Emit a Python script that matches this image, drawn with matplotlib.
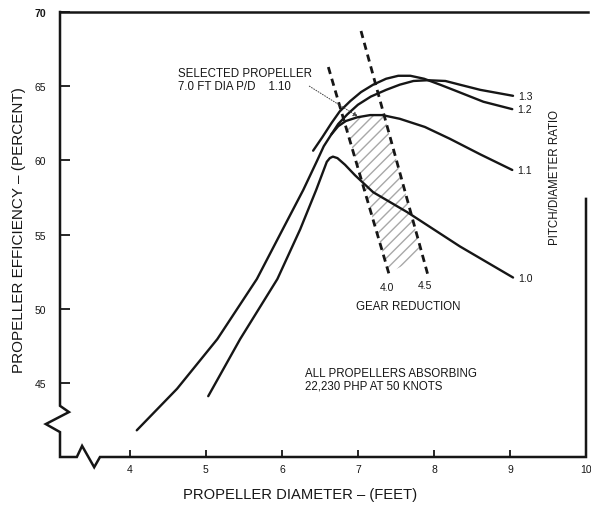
import numpy as np
import matplotlib
matplotlib.use("Agg")
import matplotlib.pyplot as plt
from matplotlib.lines import Line2D

plt.rcParams['font.family'] = ['Liberation Sans', 'DejaVu Sans']

# efficiency curves, one per pitch/diameter ratio (diameter ft, efficiency %)
pd10_x = [5.03, 5.45, 5.94, 6.24, 6.45, 6.59, 6.63, 6.67, 6.73, 6.83, 6.96, 7.2, 7.65, 8.34, 9.04]
pd10_y = [44.1, 47.95, 52.0, 55.35, 58.0, 59.9, 60.15, 60.25, 60.15, 59.7, 59.0, 57.85, 56.5, 54.2, 52.1]

pd11_x = [4.09, 4.62, 5.15, 5.67, 6.01, 6.28, 6.46, 6.55, 6.65, 6.74, 6.84, 6.99, 7.16, 7.32, 7.55, 7.88, 8.21, 8.61, 9.03]
pd11_y = [41.8, 44.6, 47.95, 52.0, 55.35, 58.0, 59.95, 60.95, 61.75, 62.3, 62.65, 62.9, 63.05, 63.05, 62.8, 62.25, 61.45, 60.4, 59.35]

pd12_x = [6.41, 6.53, 6.65, 6.76, 6.90, 7.04, 7.20, 7.37, 7.53, 7.69, 7.87, 8.08, 8.28, 8.65, 9.03]
pd12_y = [60.65, 61.55, 62.5, 63.3, 64.0, 64.6, 65.1, 65.5, 65.7, 65.7, 65.5, 65.1, 64.7, 63.95, 63.45]

pd13_x = [6.65, 6.74, 6.86, 7.0, 7.17, 7.37, 7.55, 7.73, 7.92, 8.15, 8.34, 8.61, 9.04]
pd13_y = [61.75, 62.45, 63.1, 63.75, 64.3, 64.75, 65.1, 65.35, 65.4, 65.35, 65.1, 64.75, 64.35]

ratio_labels = ["1.0", "1.1", "1.2", "1.3"]

# gear reduction lines (end points)
gear40_x = [6.61, 7.42]
gear40_y = [66.29, 52.13]
gear45_x = [7.04, 7.92]
gear45_y = [68.72, 52.27]
gear_labels = ["4.0", "4.5"]
hatch_bottom = [52.4, 53.6]   # lower edge of the shaded band on each gear line

selected = (7.0, 62.95)   # 7.0 ft dia, P/D 1.10

x_ticks = [4, 5, 6, 7, 8, 9, 10]
y_ticks = [45, 50, 55, 60, 65, 70]

ink = '#161616'
note_size = 8.3

fig = plt.figure(figsize=(5.91, 5.06), dpi=100)
ax = fig.add_axes([60/591, 1 - 458/506, 526/591, 445/506])
ax.set_xlim(3.08, 10)
ax.set_ylim(40, 70)

curves = [(pd10_x, pd10_y), (pd11_x, pd11_y), (pd12_x, pd12_y), (pd13_x, pd13_y)]
for (cx, cy), lab in zip(curves, ratio_labels):
    ax.plot(cx, cy, color=ink, lw=1.7, solid_capstyle='round', solid_joinstyle='round')
    ax.text(cx[-1] + 0.07, cy[-1], lab, fontsize=7.5, color=ink, ha='left', va='center')


def on_line(lx, ly, y):
    # x on a straight gear line at a given efficiency
    return lx[0] + (ly[0] - y) / (ly[0] - ly[1]) * (lx[1] - lx[0])


def meets_curve(lx, ly, cx, cy):
    # where a gear line crosses the P/D 1.1 curve
    t = np.linspace(0, 1, 400)
    gx = lx[0] + t * (lx[1] - lx[0])
    gy = ly[0] + t * (ly[1] - ly[0])
    d = gy - np.interp(gx, cx, cy)
    i = np.where(np.sign(d[:-1]) != np.sign(d[1:]))[0][0]
    return gx[i], gy[i]


# shaded band between the two gear lines, under the 1.1 curve
x_a, y_a = meets_curve(gear40_x, gear40_y, pd11_x, pd11_y)
x_b, y_b = meets_curve(gear45_x, gear45_y, pd11_x, pd11_y)
top_x = [x for x in pd11_x if x_a < x < x_b]
top_y = [y for x, y in zip(pd11_x, pd11_y) if x_a < x < x_b]
poly_x = [x_a, on_line(gear40_x, gear40_y, hatch_bottom[0]),
          on_line(gear45_x, gear45_y, hatch_bottom[1]), x_b] + top_x[::-1]
poly_y = [y_a, hatch_bottom[0], hatch_bottom[1], y_b] + top_y[::-1]
ax.fill(poly_x, poly_y, facecolor='none', edgecolor='#a8a8a8', hatch='///', lw=0)

for lx, ly, lab in [(gear40_x, gear40_y, gear_labels[0]), (gear45_x, gear45_y, gear_labels[1])]:
    ax.plot(lx, ly, color=ink, lw=2, linestyle=(0, (2.6, 1.8)))
    ax.text(lx[1] - 0.04, ly[1] - 0.65, lab, fontsize=7.5, color=ink, ha='center', va='center')

ax.text(7.66, 50.15, "GEAR REDUCTION", fontsize=note_size, color=ink, ha='center', va='center')

ax.text(4.63, 65.45, "SELECTED PROPELLER\n7.0 FT DIA P/D    1.10", fontsize=note_size, color=ink,
        ha='left', va='center', linespacing=1.1)
ax.annotate("", xy=selected, xytext=(6.36, 65.0),
            arrowprops=dict(arrowstyle='-|>', color='#444', lw=0.7, linestyle=':',
                            mutation_scale=7, shrinkA=0, shrinkB=0))

ax.text(6.30, 45.25, "ALL PROPELLERS ABSORBING\n22,230 PHP AT 50 KNOTS", fontsize=note_size,
        color=ink, ha='left', va='center', linespacing=1.1)

ax.text(9.59, 58.9, "PITCH/DIAMETER RATIO", fontsize=note_size, color=ink, rotation=90,
        ha='center', va='center')

# ticks point inward, no 40 / 3 labels
ax.set_xticks(x_ticks)
ax.set_xticklabels([str(t) for t in x_ticks])
ax.set_yticks(y_ticks)
ax.set_yticklabels([str(t) for t in y_ticks])
ax.tick_params(axis='x', direction='in', length=5, width=1.3, pad=5, labelsize=7.5, colors=ink)
ax.tick_params(axis='y', direction='in', length=7, width=1.3, pad=10, labelsize=7.5, colors=ink)
ax.get_yticklabels()[-1].set_fontweight('bold')

# frame drawn by hand so the axes can show break zigzags
for s in ax.spines.values():
    s.set_visible(False)
frame_x = [0, 0, 0.017, -0.027, 0, 0, 0.032, 0.042, 0.065, 0.076, 1.0, 1.0]
frame_y = [1.0, 0.115, 0.101, 0.074, 0.056, 0.0, 0.0, 0.025, -0.023, 0.0, 0.0, 0.58]
ax.add_line(Line2D(frame_x, frame_y, transform=ax.transAxes, color=ink, lw=1.8,
                   clip_on=False, solid_joinstyle='miter'))
ax.add_line(Line2D([0, 1.004], [1.0, 1.0], transform=ax.transAxes, color=ink, lw=1.8,
                   clip_on=False))

fig.text(300/591, 1 - 495/506, "PROPELLER DIAMETER \u2013 (FEET)", fontsize=10.6, color=ink,
         ha='center', va='center')
fig.text(19/591, 1 - 230/506, "PROPELLER EFFICIENCY \u2013 (PERCENT)", fontsize=11, color=ink,
         ha='center', va='center', rotation=90)

fig.savefig("out.png", dpi=100)
